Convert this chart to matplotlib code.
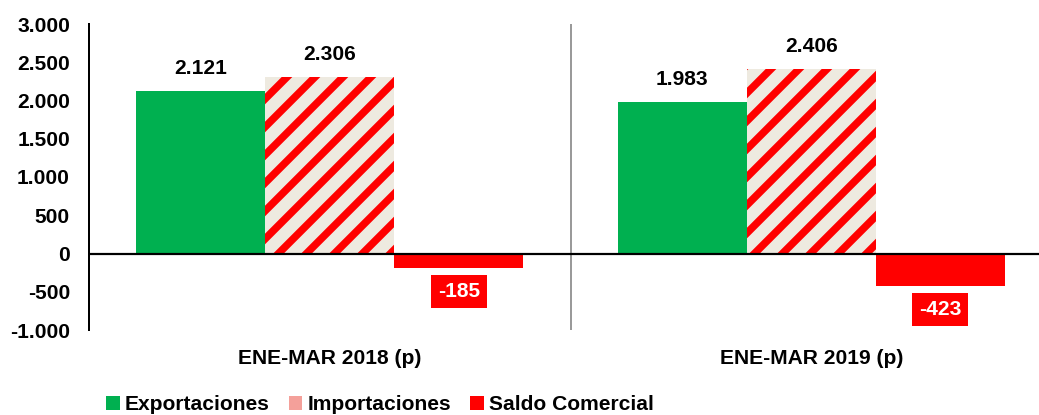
import matplotlib

matplotlib.use("Agg")
import matplotlib.pyplot as plt
from matplotlib.patches import Patch
from matplotlib.ticker import FuncFormatter

# data (millones USD)
periods = ["ENE-MAR 2018 (p)", "ENE-MAR 2019 (p)"]
exportaciones = [2121, 1983]
importaciones = [2306, 2406]
saldo = [-185, -423]
yticks = [-1000, -500, 0, 500, 1000, 1500, 2000, 2500, 3000]

GREEN = "#00B050"
RED = "#FF0000"
HATCH_BG = "#EEEAE0"

DPI = 84
W, H = 1039, 415
FS = 21.0 * 72 / DPI  # ~21 px em


def px(v):
    return v * 72 / DPI


def miles(v):
    return f"{int(v):,}".replace(",", ".")


plt.rcParams["font.family"] = ["Liberation Sans", "DejaVu Sans"]
plt.rcParams["font.weight"] = "bold"
plt.rcParams["hatch.color"] = RED
plt.rcParams["hatch.linewidth"] = px(7.5)

fig = plt.figure(figsize=(W / DPI, H / DPI), dpi=DPI)
ax = fig.add_axes([89 / W, 1 - 330 / H, 1 - 89 / W, (330 - 24) / H])

bw = 0.268
xs = list(range(len(periods)))
ax.bar([x - bw for x in xs], exportaciones, bw, color=GREEN, linewidth=0)
ax.bar(xs, importaciones, bw, color=HATCH_BG, hatch="/", linewidth=0)
ax.bar([x + bw for x in xs], saldo, bw, color=RED, linewidth=0)

for x, v in zip(xs, exportaciones):
    ax.annotate(miles(v), (x - bw, v), xytext=(0, px(13)),
                textcoords="offset points", ha="center", va="bottom",
                fontsize=FS, fontweight="bold")
for x, v in zip(xs, importaciones):
    ax.annotate(miles(v), (x, v), xytext=(0, px(13)),
                textcoords="offset points", ha="center", va="bottom",
                fontsize=FS, fontweight="bold")
for x, v in zip(xs, saldo):
    ax.annotate(f"{v}", (x + bw, v), xytext=(0, px(-24)),
                textcoords="offset points", ha="center", va="center",
                fontsize=FS, fontweight="bold", color="white",
                bbox=dict(boxstyle="square,pad=0.33", fc=RED, ec="none"))

ax.axhline(0, color="black", lw=px(2.2), zorder=3)
ax.axvline(0.5, color="#9A9A9A", lw=px(2.0), zorder=0)

ax.set_xlim(-0.5, (W - 89) / 481.5 - 0.5)
ax.set_ylim(-1000, 3000)
ax.set_yticks(yticks)
ax.yaxis.set_major_formatter(FuncFormatter(lambda v, p: miles(v)))
ax.set_xticks(xs)
ax.set_xticklabels(periods)
ax.tick_params(axis="y", length=0, pad=px(19), labelsize=FS)
ax.tick_params(axis="x", length=0, pad=px(19), labelsize=FS)
for lab in ax.get_xticklabels() + ax.get_yticklabels():
    lab.set_fontweight("bold")

for s in ["top", "right", "bottom"]:
    ax.spines[s].set_visible(False)
ax.spines["left"].set_linewidth(px(2.0))

handles = [
    Patch(facecolor=GREEN, edgecolor="none", label="Exportaciones"),
    Patch(facecolor="#F4A09A", edgecolor="none", label="Importaciones"),
    Patch(facecolor=RED, edgecolor="none", label="Saldo Comercial"),
]
fig.legend(handles=handles, loc="center left", bbox_to_anchor=(106 / W, 1 - 405 / H),
           ncol=3, frameon=False, prop={"size": FS, "weight": "bold"},
           handlelength=0.65, handleheight=0.65, handletextpad=0.25,
           columnspacing=0.9, borderaxespad=0, borderpad=0)

fig.savefig("out.png", dpi=DPI)
